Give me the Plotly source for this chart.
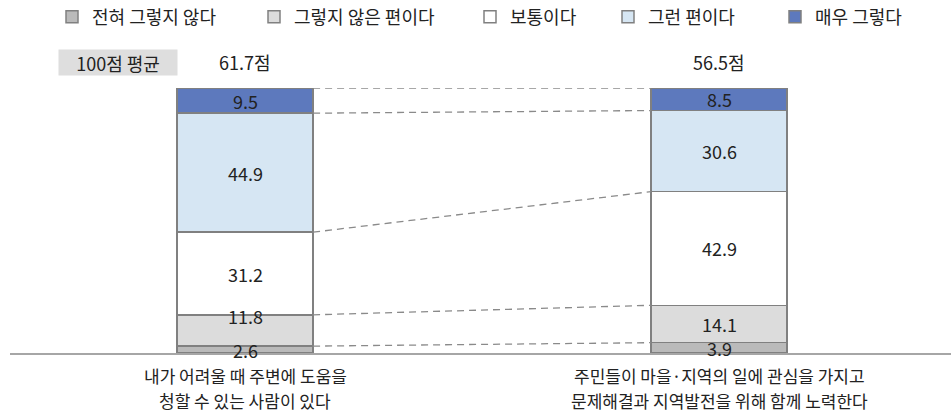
import plotly.graph_objects as go

categories = ["내가 어려울 때 주변에 도움을<br>청할 수 있는 사람이 있다",
              "주민들이 마을·지역의 일에 관심을 가지고<br>문제해결과 지역발전을 위해 함께 노력한다"]
series_names = ["전혀 그렇지 않다", "그렇지 않은 편이다", "보통이다", "그런 편이다", "매우 그렇다"]
v_none = [2.6, 3.9]
v_little = [11.8, 14.1]
v_normal = [31.2, 42.9]
v_some = [44.9, 30.6]
v_very = [9.5, 8.5]
avg_scores = ["61.7점", "56.5점"]
avg_label = "100점 평균"

series_values = [v_none, v_little, v_normal, v_some, v_very]
colors = ["#BABABA", "#DCDCDC", "#FFFFFF", "#D6E6F3", "#5D79BD"]
FONT = "Noto Sans CJK KR"
W = 0.287
xs = [0, 1]

fig = go.Figure()
legend_px = [66, 268, 484, 622, 789]
for i, (name, vals, col) in enumerate(zip(series_names, series_values, colors)):
    lg = "legend" if i == 0 else f"legend{i+1}"
    fig.add_trace(go.Bar(x=xs, y=vals, name=name, width=W,
                         marker=dict(color=col, line=dict(color="#808080", width=1.5)),
                         legend=lg, hoverinfo="skip"))

# dashed connector lines at cumulative boundaries
cum = [[0, 0]]
for vals in series_values:
    cum.append([cum[-1][j] + vals[j] for j in range(2)])
for level in cum[1:]:
    fig.add_trace(go.Scatter(x=[xs[0] + W / 2, xs[1] - W / 2], y=level, mode="lines",
                             line=dict(color="#8A8A8A", width=1.3, dash="7px,5px"),
                             showlegend=False, hoverinfo="skip"))

# value labels
label_shift = {(1, 0): 14}
annotations = []
for s, vals in enumerate(series_values):
    for j in range(2):
        center = cum[s][j] + vals[j] / 2
        annotations.append(dict(x=xs[j], y=center, xref="x", yref="y", text=f"{vals[j]:.1f}",
                                showarrow=False, font=dict(size=18, color="#222222", family=FONT),
                                yshift=label_shift.get((s, j), 0)))

# average scores
for j in range(2):
    annotations.append(dict(x=xs[j], y=1, xref="x", yref="paper", text=avg_scores[j], showarrow=False,
                            yanchor="middle", yshift=26, font=dict(size=18, color="#222222", family=FONT)))
annotations.append(dict(x=(118 - 10) / 941, y=1, xref="paper", yref="paper", text=avg_label,
                        showarrow=False, xanchor="center", yanchor="middle", yshift=26,
                        bgcolor="#DEDEDE", borderpad=0, width=118, height=25,
                        font=dict(size=18, color="#222222", family=FONT)))

# category labels (two lines each)
for j, cat in enumerate(categories):
    for k, line in enumerate(cat.split("<br>")):
        annotations.append(dict(x=xs[j], y=0, xref="x", yref="paper", text=line, showarrow=False,
                                xanchor="center", yanchor="middle", yshift=-22 - 25 * k,
                                font=dict(size=17, color="#222222", family=FONT)))

layout = dict(
    barmode="stack",
    width=951, height=413,
    margin=dict(l=10, r=0, t=88, b=60, autoexpand=False),
    paper_bgcolor="white", plot_bgcolor="white",
    font=dict(family=FONT, size=17, color="#222222"),
    xaxis=dict(range=[-0.4958, 1.489], showticklabels=False, showgrid=False, zeroline=False,
               showline=True, linecolor="#A6A6A6", linewidth=1.5, ticks=""),
    yaxis=dict(range=[0, 100], visible=False),
    annotations=annotations,
    showlegend=True,
)
for i, px in enumerate(legend_px):
    key = "legend" if i == 0 else f"legend{i+1}"
    layout[key] = dict(x=(px - 10 - 14) / 941, y=1 + (88 - 17) / 265, xanchor="left", yanchor="middle",
                       orientation="h", bgcolor="rgba(0,0,0,0)", itemwidth=30,
                       font=dict(size=18, color="#222222", family=FONT))
fig.update_layout(**layout)
fig.write_html("out.html", config={"displayModeBar": False},
               post_script="document.body.style.margin='0';document.body.style.overflow='hidden';")
